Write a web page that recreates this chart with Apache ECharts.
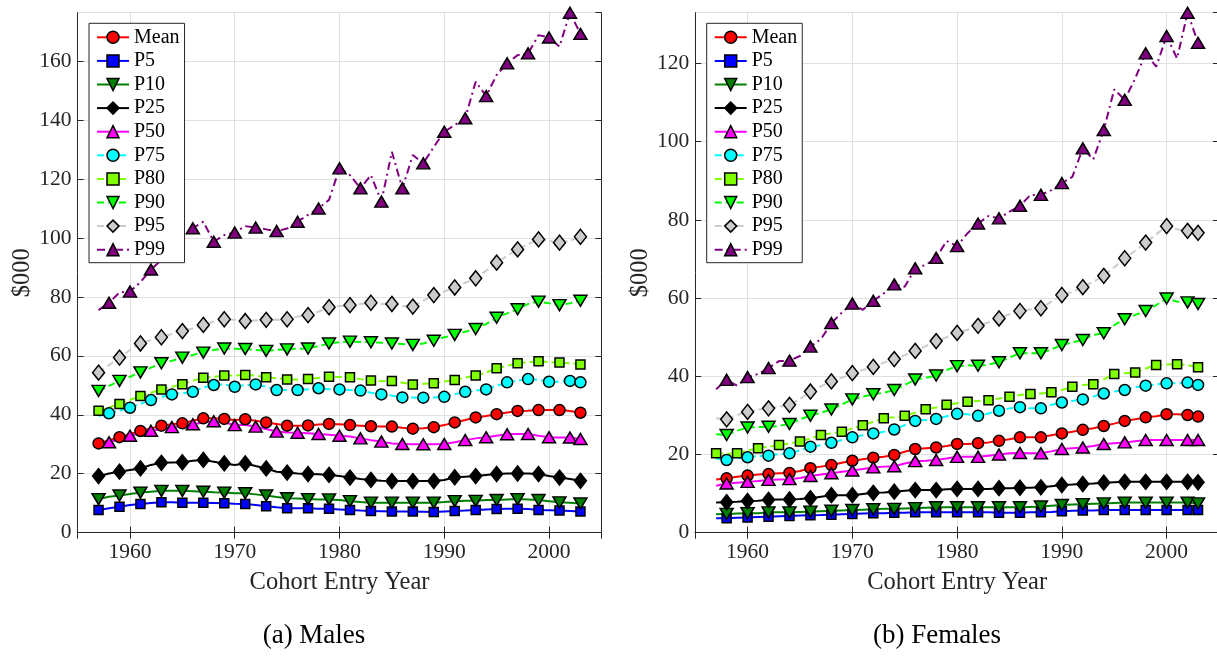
<!DOCTYPE html>
<html>
<head>
<meta charset="utf-8">
<title>Earnings percentiles by cohort entry year</title>
<script src="https://cdn.jsdelivr.net/npm/echarts@6/dist/echarts.min.js"></script>
<style>
  html, body { margin: 0; padding: 0; background: #ffffff; }
  #chart { width: 1217px; height: 656px; }
</style>
</head>
<body>
<div id="chart"></div>
<script>
// Cohort entry years (x values)
const years = [1957, 1958, 1959, 1960, 1961, 1962, 1963, 1964, 1965, 1966,
               1967, 1968, 1969, 1970, 1971, 1972, 1973, 1974, 1975, 1976,
               1977, 1978, 1979, 1980, 1981, 1982, 1983, 1984, 1985, 1986,
               1987, 1988, 1989, 1990, 1991, 1992, 1993, 1994, 1995, 1996,
               1997, 1998, 1999, 2000, 2001, 2002, 2003];

// ---- Males, $000 ----
const maleMean = [30.3, 31.4, 32.4, 33.5, 34.5, 35.4, 36.3, 36.8, 37.1, 38.0,
                  38.8, 38.8, 38.6, 38.2, 38.5, 38.0, 37.4, 36.9, 36.3, 36.3,
                  36.4, 36.7, 36.9, 36.8, 36.5, 36.3, 36.1, 36.0, 36.0, 35.6,
                  35.3, 35.4, 35.8, 36.5, 37.4, 38.2, 39.1, 39.6, 40.2, 40.8,
                  41.3, 41.4, 41.6, 41.6, 41.6, 41.3, 40.7];
const maleP5 = [7.7, 8.3, 8.8, 9.4, 9.7, 10.1, 10.3, 10.3, 10.2, 10.2,
                10.2, 10.1, 10.0, 9.8, 9.7, 9.4, 9.0, 8.6, 8.3, 8.3,
                8.3, 8.1, 8.1, 7.9, 7.7, 7.5, 7.4, 7.3, 7.2, 7.2,
                7.2, 7.1, 7.0, 7.2, 7.4, 7.5, 7.7, 7.9, 8.0, 8.1,
                8.1, 8.0, 7.7, 7.6, 7.5, 7.4, 7.2];
const maleP10 = [11.4, 12.2, 12.6, 13.1, 13.6, 13.9, 14.2, 14.2, 14.2, 14.1,
                 13.9, 13.7, 13.6, 13.4, 13.4, 13.0, 12.6, 12.1, 11.7, 11.6,
                 11.4, 11.3, 11.3, 11.1, 10.7, 10.4, 10.2, 10.2, 10.2, 10.2,
                 10.2, 10.2, 10.2, 10.4, 10.7, 10.8, 10.8, 11.1, 11.1, 11.3,
                 11.4, 11.3, 11.1, 10.7, 10.3, 10.2, 9.9];
const maleP25 = [19.2, 20.1, 20.7, 21.3, 21.8, 23.0, 23.7, 23.8, 23.9, 24.4,
                 24.7, 24.1, 23.5, 23.0, 23.5, 22.6, 21.8, 20.7, 20.4, 20.1,
                 19.9, 19.8, 19.6, 19.2, 18.7, 18.2, 17.9, 17.6, 17.5, 17.5,
                 17.5, 17.5, 17.5, 17.9, 18.8, 19.0, 19.2, 19.6, 19.9, 20.1,
                 20.1, 20.1, 19.9, 19.2, 18.7, 18.2, 17.6];
const maleP50 = [29.8, 30.7, 31.8, 32.9, 33.7, 34.6, 35.2, 35.8, 36.3, 36.8,
                 37.4, 37.8, 37.4, 36.5, 36.5, 36.0, 35.2, 34.3, 34.0, 33.9,
                 33.7, 33.5, 33.2, 32.9, 32.6, 32.0, 31.4, 30.9, 30.3, 30.1,
                 30.0, 30.0, 30.0, 30.1, 30.7, 31.4, 32.0, 32.4, 32.9, 33.4,
                 33.5, 33.5, 32.9, 32.4, 32.3, 32.3, 31.8];
const maleP75 = [39.6, 40.5, 41.4, 42.4, 43.7, 45.0, 46.1, 46.9, 47.3, 47.8,
                 49.3, 50.1, 50.3, 49.5, 50.1, 50.3, 49.5, 48.4, 48.4, 48.4,
                 48.7, 49.0, 48.7, 48.6, 48.4, 48.2, 47.5, 46.9, 46.5, 45.9,
                 45.9, 45.8, 45.9, 46.1, 47.0, 47.8, 48.2, 48.6, 49.8, 51.0,
                 51.6, 52.1, 51.8, 51.2, 51.2, 51.5, 51.0];
const maleP80 = [41.4, 42.5, 43.7, 45.0, 46.4, 47.5, 48.6, 49.5, 50.4, 51.6,
                 52.6, 52.9, 53.3, 53.3, 53.5, 53.3, 52.7, 52.4, 52.0, 52.0,
                 52.1, 52.5, 52.9, 52.8, 52.7, 52.1, 51.6, 51.4, 51.5, 50.9,
                 50.3, 50.5, 50.7, 51.3, 51.8, 52.6, 53.3, 54.3, 55.8, 56.6,
                 57.5, 57.8, 58.2, 57.9, 57.7, 57.5, 57.1];
const maleP90 = [48.1, 49.8, 51.5, 52.9, 54.4, 56.0, 57.5, 58.3, 59.4, 60.3,
                 61.1, 62.0, 62.5, 62.4, 62.3, 62.0, 61.7, 62.0, 62.2, 62.4,
                 62.5, 63.3, 64.2, 64.6, 64.8, 64.7, 64.6, 64.4, 64.2, 64.0,
                 63.7, 64.2, 65.1, 66.3, 67.1, 68.2, 69.1, 70.8, 72.9, 74.4,
                 75.8, 77.6, 78.4, 77.8, 77.2, 77.8, 78.7];
const maleP95 = [54.3, 56.9, 59.4, 62.0, 64.2, 65.4, 66.3, 67.4, 68.4, 69.3,
                 70.5, 71.6, 72.4, 72.2, 71.8, 72.0, 72.2, 72.2, 72.4, 73.3,
                 73.8, 75.0, 76.5, 76.9, 77.2, 77.6, 78.0, 77.6, 77.6, 76.9,
                 76.7, 78.7, 80.6, 81.8, 83.2, 84.8, 86.3, 88.9, 91.6, 93.9,
                 96.1, 97.9, 99.5, 99.0, 98.4, 99.0, 100.4];
const maleP99 = [75.5, 78.0, 81.5, 81.8, 85.0, 89.3, 92.5, 96.0, 100.2, 103.3,
                 105.5, 98.7, 101.0, 101.8, 104.0, 103.5, 102.9, 102.3, 103.2, 105.5,
                 107.8, 110.0, 112.9, 123.6, 121.3, 116.8, 121.3, 112.3, 129.2, 116.8,
                 128.1, 125.3, 130.9, 136.0, 138.3, 140.6, 153.0, 148.1, 155.3, 159.2,
                 162.0, 162.6, 168.8, 168.0, 164.9, 176.4, 169.2];

// ---- Females, $000 ----
const femaleMean = [13.6, 13.9, 14.3, 14.6, 14.9, 15.0, 15.2, 15.3, 15.8, 16.5,
                    16.9, 17.3, 17.9, 18.4, 18.8, 19.2, 19.4, 19.9, 20.7, 21.4,
                    21.6, 21.8, 22.2, 22.7, 22.7, 22.9, 23.1, 23.5, 23.9, 24.4,
                    24.4, 24.4, 24.9, 25.4, 25.8, 26.3, 26.7, 27.3, 27.9, 28.6,
                    29.0, 29.5, 29.8, 30.3, 30.3, 30.1, 29.7];
const femaleP5 = [3.7, 3.7, 3.8, 3.9, 4.0, 4.1, 4.2, 4.3, 4.4, 4.45,
                  4.5, 4.6, 4.7, 4.8, 4.9, 5.0, 5.0, 5.1, 5.1, 5.2,
                  5.2, 5.2, 5.2, 5.2, 5.2, 5.2, 5.2, 5.1, 5.1, 5.1,
                  5.2, 5.2, 5.3, 5.5, 5.6, 5.7, 5.7, 5.8, 5.8, 5.8,
                  5.8, 5.8, 5.8, 5.8, 5.8, 5.8, 5.8];
const femaleP10 = [4.7, 4.8, 4.9, 5.0, 5.0, 5.2, 5.2, 5.2, 5.3, 5.4,
                   5.5, 5.6, 5.7, 5.8, 5.9, 6.0, 6.1, 6.1, 6.2, 6.3,
                   6.4, 6.5, 6.5, 6.5, 6.5, 6.5, 6.5, 6.5, 6.5, 6.5,
                   6.6, 6.7, 6.9, 7.1, 7.2, 7.3, 7.4, 7.5, 7.6, 7.7,
                   7.7, 7.7, 7.7, 7.7, 7.7, 7.7, 7.5];
const femaleP25 = [7.7, 7.8, 7.9, 8.1, 8.2, 8.4, 8.5, 8.5, 8.6, 8.8,
                   9.2, 9.6, 9.6, 9.6, 9.9, 10.2, 10.3, 10.5, 10.7, 10.9,
                   10.9, 10.9, 11.1, 11.2, 11.2, 11.2, 11.2, 11.4, 11.4, 11.5,
                   11.5, 11.6, 11.9, 12.2, 12.3, 12.45, 12.6, 12.8, 12.9, 13.0,
                   13.0, 13.0, 13.0, 13.0, 13.0, 13.0, 12.9];
const femaleP50 = [12.0, 12.6, 12.8, 13.0, 13.2, 13.5, 13.6, 13.7, 14.0, 14.5,
                   14.9, 15.2, 15.6, 15.9, 16.3, 16.7, 16.9, 17.0, 17.7, 18.3,
                   18.4, 18.6, 19.0, 19.4, 19.4, 19.4, 19.7, 20.0, 20.3, 20.4,
                   20.3, 20.3, 20.8, 21.4, 21.6, 21.8, 22.2, 22.7, 22.9, 23.1,
                   23.4, 23.7, 23.7, 23.7, 23.7, 23.7, 23.7];
const femaleP75 = [19.0, 18.6, 19.0, 19.3, 19.6, 19.7, 20.1, 20.3, 21.1, 22.0,
                   22.4, 23.0, 23.7, 24.4, 24.9, 25.4, 25.8, 26.4, 27.5, 28.6,
                   28.8, 29.1, 29.8, 30.4, 30.3, 29.9, 30.5, 31.2, 31.8, 32.1,
                   31.8, 31.8, 32.7, 33.3, 33.7, 34.1, 34.8, 35.6, 36.1, 36.5,
                   37.2, 37.6, 37.9, 38.2, 38.2, 38.4, 37.8];
const femaleP80 = [20.3, 20.2, 20.3, 21.0, 21.6, 22.0, 22.4, 22.8, 23.3, 24.1,
                   25.0, 25.4, 25.8, 26.7, 27.5, 28.4, 29.3, 29.5, 29.9, 30.7,
                   31.6, 32.0, 32.7, 33.1, 33.5, 33.7, 33.9, 34.3, 34.8, 35.2,
                   35.5, 35.6, 35.9, 36.5, 37.3, 37.8, 38.0, 39.2, 40.6, 40.8,
                   41.0, 42.0, 42.9, 43.0, 43.1, 42.9, 42.3];
const femaleP90 = [25.2, 25.0, 26.1, 26.9, 27.0, 27.1, 27.3, 27.8, 29.0, 29.9,
                   30.7, 31.5, 32.8, 34.1, 34.8, 35.4, 35.8, 36.5, 37.8, 39.2,
                   39.6, 40.2, 41.6, 42.6, 42.8, 42.7, 43.0, 43.6, 44.8, 45.9,
                   45.9, 45.9, 46.9, 48.0, 48.7, 49.3, 50.6, 51.0, 53.1, 54.6,
                   55.7, 56.7, 58.2, 59.9, 59.1, 58.9, 58.5];
const femaleP95 = [29.3, 29.0, 30.1, 30.9, 31.5, 31.8, 32.2, 32.7, 34.2, 36.1,
                   37.4, 38.7, 39.6, 40.8, 41.6, 42.4, 43.5, 44.4, 45.4, 46.5,
                   47.7, 49.0, 50.0, 51.1, 51.9, 52.9, 53.8, 54.8, 55.9, 56.7,
                   57.1, 57.4, 59.1, 60.8, 61.6, 62.8, 64.2, 65.7, 67.9, 70.2,
                   72.1, 74.2, 76.3, 78.4, 77.6, 77.2, 76.7];
const femaleP99 = [36.7, 39.1, 37.6, 39.8, 40.6, 42.1, 43.9, 44.0, 45.2, 47.6,
                   49.5, 53.6, 56.3, 58.6, 57.0, 59.3, 61.2, 63.5, 62.9, 67.6,
                   68.5, 70.3, 74.6, 73.3, 76.6, 79.1, 81.0, 80.4, 82.1, 83.6,
                   86.4, 86.4, 87.6, 89.4, 91.0, 98.3, 95.5, 103.0, 113.4, 110.7,
                   116.2, 122.6, 119.2, 127.0, 121.3, 133.0, 125.3];

// Series labels, in plotting order
const seriesNames = ['Mean', 'P5', 'P10', 'P25', 'P50', 'P75', 'P80', 'P90', 'P95', 'P99'];

const maleValues = [maleMean, maleP5, maleP10, maleP25, maleP50,
                    maleP75, maleP80, maleP90, maleP95, maleP99];
const femaleValues = [femaleMean, femaleP5, femaleP10, femaleP25, femaleP50,
                      femaleP75, femaleP80, femaleP90, femaleP95, femaleP99];

// Which years carry a marker: 'odd' = 1957, 1959, ...; 'even' = 1958, 1960, ... plus the last year
const maleMarkerPhase   = ['odd', 'odd', 'odd', 'odd', 'even', 'even', 'odd', 'odd', 'odd', 'even'];
const femaleMarkerPhase = ['even', 'even', 'even', 'even', 'even', 'even', 'odd', 'even', 'even', 'even'];

// Line / marker appearance per series
const DASH = [7, 4];
const DASHDOT = [8, 4, 2, 4];
const styles = [
  { color: '#ff0000', symbol: 'circle',   size: 11,       rotate: 0,   dash: 'solid' },
  { color: '#0000ff', symbol: 'rect',     size: 9,        rotate: 0,   dash: 'solid' },
  { color: '#008000', symbol: 'triangle', size: [13, 11], rotate: 180, dash: 'solid' },
  { color: '#000000', symbol: 'diamond',  size: [12, 15], rotate: 0,   dash: 'solid' },
  { color: '#ff00ff', symbol: 'triangle', size: [13, 11], rotate: 0,   dash: 'solid' },
  { color: '#00ffff', symbol: 'circle',   size: 11,       rotate: 0,   dash: DASH },
  { color: '#80ff00', symbol: 'rect',     size: 9,        rotate: 0,   dash: DASH },
  { color: '#00ff00', symbol: 'triangle', size: [13, 11], rotate: 180, dash: DASH },
  { color: '#cccccc', symbol: 'diamond',  size: [12, 15], rotate: 0,   dash: DASH },
  { color: '#800080', symbol: 'triangle', size: [13, 11], rotate: 0,   dash: DASHDOT }
];

const FONT = '"Liberation Serif", "Times New Roman", serif';
const AXIS_COLOR = '#262626';
const GRID_COLOR = '#e0e0e0';

function pointsFor(values, phase) {
  const lastIdx = years.length - 1;
  return years.map(function (yr, i) {
    const marked = phase === 'odd' ? (yr % 2 === 1) : (yr % 2 === 0 || i === lastIdx);
    const pt = [yr, values[i]];
    return marked ? pt : { value: pt, symbol: 'none' };
  });
}

function panelSeries(valueSets, phases, axisIdx) {
  return seriesNames.map(function (name, k) {
    const st = styles[k];
    return {
      name: name,
      type: 'line',
      xAxisIndex: axisIdx,
      yAxisIndex: axisIdx,
      data: pointsFor(valueSets[k], phases[k]),
      showSymbol: true,
      symbol: st.symbol,
      symbolSize: st.size,
      symbolRotate: st.rotate,
      clip: false,
      lineStyle: { color: st.color, width: 2, type: st.dash },
      itemStyle: { color: st.color, borderColor: '#000000', borderWidth: 1.5 },
      emphasis: { disabled: true },
      silent: true
    };
  });
}

const maleMax = Math.max.apply(null, maleP99);
const femaleMax = Math.max.apply(null, femaleP99);

const grids = [
  { left: 77.6, top: 12.7, width: 523.8, height: 520 },
  { left: 695.2, top: 12.7, width: 523.8, height: 520 }
];

function plainNumber(v) { return String(v); }

function bottomX(gridIndex) {
  return {
    type: 'value', gridIndex: gridIndex, position: 'bottom',
    min: 1955, max: 2005, splitNumber: 5,
    axisLine: { show: true, lineStyle: { color: AXIS_COLOR, width: 1 } },
    axisTick: { show: true, inside: true, length: 6, lineStyle: { color: AXIS_COLOR, width: 1 } },
    axisLabel: { show: true, margin: 9, color: AXIS_COLOR, fontFamily: FONT, fontSize: 21.5,
                 formatter: plainNumber, showMinLabel: false, showMaxLabel: false },
    splitLine: { show: true, lineStyle: { color: GRID_COLOR, width: 1 } },
    name: 'Cohort Entry Year', nameLocation: 'middle', nameGap: 37,
    nameTextStyle: { color: AXIS_COLOR, fontFamily: FONT, fontSize: 24.5 }
  };
}
function topX(gridIndex) {
  return {
    type: 'value', gridIndex: gridIndex, position: 'top',
    min: 1955, max: 2005, splitNumber: 5,
    axisLine: { show: true, lineStyle: { color: AXIS_COLOR, width: 1 } },
    axisTick: { show: true, inside: true, length: 6, lineStyle: { color: AXIS_COLOR, width: 1 } },
    axisLabel: { show: false },
    splitLine: { show: false }
  };
}
function leftY(gridIndex, maxV) {
  return {
    type: 'value', gridIndex: gridIndex, position: 'left',
    min: 0, max: maxV, interval: 20,
    axisLine: { show: true, lineStyle: { color: AXIS_COLOR, width: 1 } },
    axisTick: { show: true, inside: true, length: 6, lineStyle: { color: AXIS_COLOR, width: 1 } },
    axisLabel: { show: true, margin: 6, color: AXIS_COLOR, fontFamily: FONT, fontSize: 21.5,
                 formatter: plainNumber, showMaxLabel: false },
    splitLine: { show: true, lineStyle: { color: GRID_COLOR, width: 1 } },
    name: '$000', nameLocation: 'middle', nameGap: 42,
    nameTextStyle: { color: AXIS_COLOR, fontFamily: FONT, fontSize: 24.5 }
  };
}
function rightY(gridIndex, maxV) {
  return {
    type: 'value', gridIndex: gridIndex, position: 'right',
    min: 0, max: maxV, interval: 20,
    axisLine: { show: true, lineStyle: { color: AXIS_COLOR, width: 1 } },
    axisTick: { show: true, inside: true, length: 6, lineStyle: { color: AXIS_COLOR, width: 1 } },
    axisLabel: { show: false },
    splitLine: { show: false }
  };
}

function legendAt(left) {
  return {
    show: true, orient: 'vertical', left: left, top: 23.3,
    data: seriesNames,
    selectedMode: false,
    itemWidth: 32, itemHeight: 15, itemGap: 3.6,
    padding: [4, 5, 3, 7],
    borderColor: AXIS_COLOR, borderWidth: 1, borderRadius: 0,
    backgroundColor: '#ffffff',
    itemStyle: { borderWidth: 1.5 },
    lineStyle: { width: 2 },
    textStyle: { color: '#000000', fontFamily: FONT, fontSize: 20, lineHeight: 20 }
  };
}

const option = {
  animation: false,
  backgroundColor: '#ffffff',
  grid: grids.map(function (g) { return Object.assign({ outerBoundsMode: 'none', containLabel: false }, g); }),
  xAxis: [bottomX(0), topX(0), bottomX(1), topX(1)],
  yAxis: [leftY(0, maleMax), rightY(0, maleMax), leftY(1, femaleMax), rightY(1, femaleMax)],
  legend: [legendAt(89), legendAt(706.7)],
  series: panelSeries(maleValues, maleMarkerPhase, 0)
            .concat(panelSeries(femaleValues, femaleMarkerPhase, 2)),
  graphic: [
    { type: 'text', x: 314, y: 636, silent: true,
      style: { text: '(a) Males', font: '27px ' + FONT, fill: '#000000',
               align: 'center', verticalAlign: 'middle',
               textAlign: 'center', textVerticalAlign: 'middle' } },
    { type: 'text', x: 937, y: 636, silent: true,
      style: { text: '(b) Females', font: '27px ' + FONT, fill: '#000000',
               align: 'center', verticalAlign: 'middle',
               textAlign: 'center', textVerticalAlign: 'middle' } }
  ]
};

const chart = echarts.init(document.getElementById('chart'), null, { renderer: 'canvas' });
chart.setOption(option);
</script>
</body>
</html>
